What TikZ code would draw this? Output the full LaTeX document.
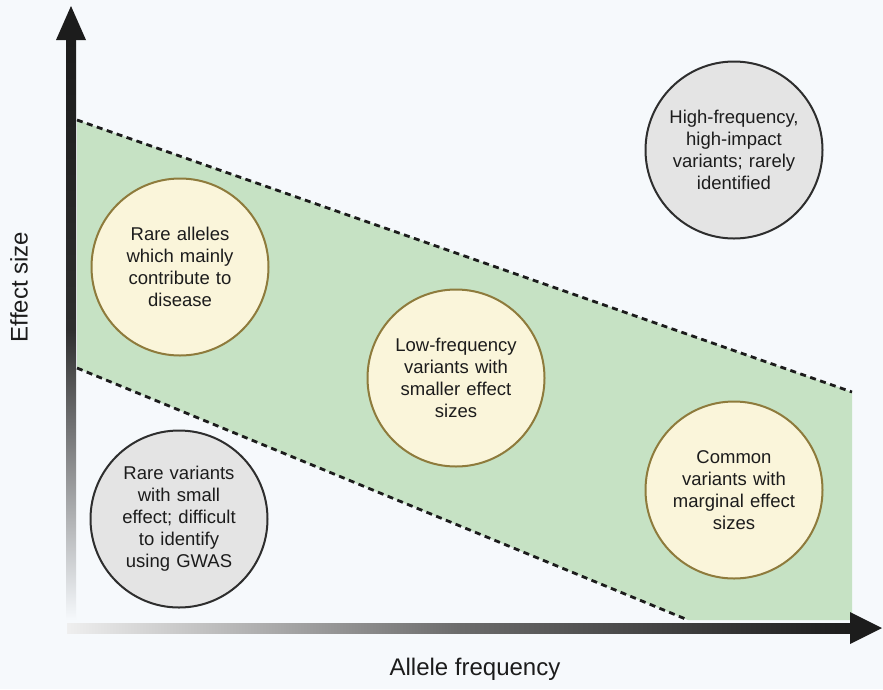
\documentclass[tikz,border=0pt]{standalone}
\usepackage{fontspec}
\setmainfont{Liberation Sans}
\usetikzlibrary{arrows.meta, positioning}
\definecolor{Ink}{HTML}{1C1C1C}
\definecolor{Paper}{HTML}{F6F9FC}
\definecolor{Band}{HTML}{C6E2C4}
\definecolor{Cream}{HTML}{FAF5DA}
\definecolor{Olive}{HTML}{8E7B3C}
\definecolor{Mist}{HTML}{E4E4E4}
\definecolor{Slate}{HTML}{2E2E2E}

\begin{document}
\begin{tikzpicture}[
  x=1pt, y=-1pt,
  bubble/.style={circle, minimum size=177pt, inner sep=0pt, align=center, text width=134pt, text=Ink, font=\fontsize{18.5}{22}\selectfont, line width=2pt},
  rare/.style={bubble, fill=Cream, draw=Olive},
  faint/.style={bubble, fill=Mist, draw=Slate},
  border/.style={draw=Ink, line width=2.8pt, dash pattern=on 6pt off 4.5pt},
  axislabel/.style={text=Ink, font=\fontsize{24}{28}\selectfont}
]
\useasboundingbox (0,0) rectangle (883,689);
\fill[Paper] (0,0) rectangle (883,689);

% band of expected variants
\coordinate (topL) at (77,120);
\coordinate (topR) at (852,392);
\coordinate (botR) at (852,620);
\coordinate (botM) at (688,620);
\coordinate (botL) at (77,368);
\fill[Band] (topL) -- (topR) -- (botR) -- (botM) -- (botL) -- cycle;
\draw[border] (topL) -- (topR);
\draw[border] (botL) -- (botM);

% axes
\shade[top color=Ink, bottom color=Paper, middle color=Ink!92] (66,38) rectangle (76,620);
\fill[Ink] (56,40) -- (71,6) -- (86,40) -- cycle;
\shade[left color=Mist!60, right color=Ink, middle color=Ink!65] (67,623) rectangle (852,633);
\fill[Ink] (850,612) -- (882,628) -- (850,644) -- cycle;

\node[axislabel, rotate=90] (ylab) at (19,287) {Effect size};
\node[axislabel] (xlab) at (475,669) {Allele frequency};

\node[rare] (alleles) at (180,267) {Rare alleles\\which mainly\\contribute to\\disease};
\node[rare] (lowfreq) at (456,378) {Low-frequency\\variants with\\smaller effect\\sizes};
\node[rare] (common) at (734,490) {Common\\variants with\\marginal effect\\sizes};
\node[faint] (highfreq) at (734,150) {High-frequency,\\high-impact\\variants; rarely\\identified};
\node[faint] (smalleff) at (179,519) {Rare variants\\with small\\effect; difficult\\to identify\\using GWAS};
\end{tikzpicture}
\end{document}
